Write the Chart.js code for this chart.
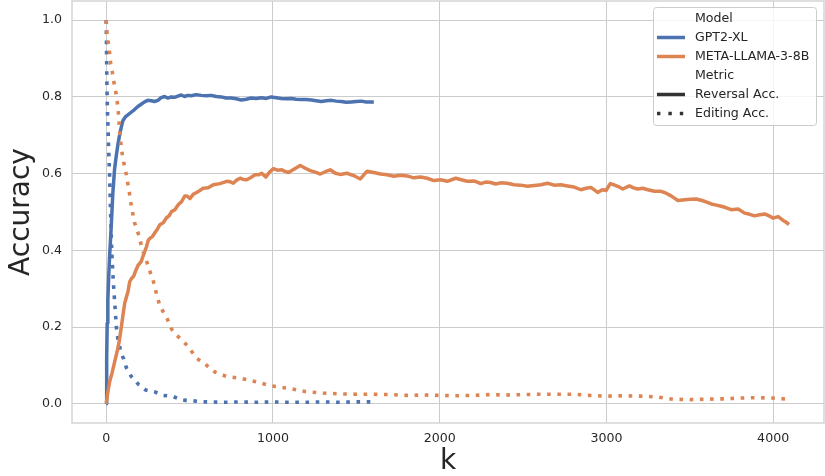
<!DOCTYPE html>
<html>
<head>
<meta charset="utf-8">
<script src="https://cdn.jsdelivr.net/npm/chart.js@4.4.1/dist/chart.umd.min.js"></script>
<style>
  html, body { margin: 0; padding: 0; background: #fff; }
  #wrap { width: 825px; height: 476px; }
</style>
</head>
<body>
<div id="wrap"><canvas id="accChart" width="825" height="476"></canvas></div>
<script>
// Axis ticks
const kTicks = [0, 1000, 2000, 3000, 4000];
const accTicks = [0, 0.2, 0.4, 0.6, 0.8, 1.0];

// Legend groups
const modelNames = ['GPT2-XL', 'META-LLAMA-3-8B'];
const modelColors = ['#4C72B0', '#DD8452'];
const metricNames = ['Reversal Acc.', 'Editing Acc.'];

// [k, accuracy]
const gptReversal = [
  [0, 0.0], [3, 0.12], [6, 0.21], [10, 0.27], [15, 0.33], [20, 0.38], [25, 0.42], [30, 0.46],
  [40, 0.55], [50, 0.61], [60, 0.645], [70, 0.675], [80, 0.70], [90, 0.72], [100, 0.738],
  [115, 0.748], [130, 0.753], [150, 0.76], [170, 0.767], [190, 0.775], [210, 0.781], [230, 0.787],
  [250, 0.791], [270, 0.790], [290, 0.788], [310, 0.791], [330, 0.798], [350, 0.801], [370, 0.797],
  [390, 0.800], [410, 0.799], [430, 0.802], [450, 0.805], [470, 0.801], [490, 0.804], [510, 0.803],
  [540, 0.806], [570, 0.804], [600, 0.803], [630, 0.804], [660, 0.801], [690, 0.800], [720, 0.797],
  [750, 0.797], [780, 0.795], [810, 0.792], [840, 0.794], [870, 0.797], [900, 0.796], [930, 0.798],
  [960, 0.796], [990, 0.800], [1020, 0.798], [1050, 0.796], [1080, 0.795], [1110, 0.796], [1140, 0.794],
  [1170, 0.793], [1200, 0.793], [1230, 0.792], [1260, 0.790], [1290, 0.788], [1320, 0.790], [1350, 0.791],
  [1380, 0.789], [1410, 0.788], [1440, 0.786], [1470, 0.787], [1500, 0.788], [1530, 0.789], [1560, 0.787],
  [1590, 0.787], [1605, 0.786]
];
const gptEditing = [
  [0, 1.0], [2, 0.93], [4, 0.84], [7, 0.77], [11, 0.72], [15, 0.66], [21, 0.59], [27, 0.49],
  [33, 0.40], [40, 0.34], [47, 0.29], [55, 0.24], [61, 0.20], [70, 0.17], [81, 0.148], [90, 0.132],
  [105, 0.117], [121, 0.094], [151, 0.071], [175, 0.06], [195, 0.05], [237, 0.036], [292, 0.031],
  [342, 0.022], [402, 0.019], [452, 0.01], [512, 0.008], [600, 0.005], [700, 0.004], [800, 0.005],
  [900, 0.004], [1000, 0.005], [1100, 0.004], [1200, 0.004], [1300, 0.005], [1400, 0.004],
  [1500, 0.005], [1605, 0.005]
];
const llamaReversal = [
  [0, 0.0], [10, 0.03], [21, 0.058], [35, 0.08], [51, 0.11], [65, 0.135], [77, 0.16], [91, 0.2],
  [101, 0.232], [111, 0.262], [121, 0.278], [131, 0.293], [141, 0.318], [151, 0.326], [165, 0.333],
  [177, 0.347], [190, 0.36], [201, 0.366], [211, 0.372], [221, 0.385], [231, 0.397], [242, 0.41],
  [252, 0.426], [262, 0.431], [277, 0.436], [292, 0.446], [307, 0.455], [322, 0.467], [342, 0.472],
  [362, 0.485], [377, 0.49], [392, 0.501], [412, 0.506], [432, 0.519], [452, 0.527], [472, 0.542],
  [487, 0.541], [502, 0.535], [522, 0.546], [542, 0.551], [562, 0.556], [582, 0.562], [612, 0.563],
  [642, 0.571], [682, 0.574], [723, 0.58], [742, 0.579], [762, 0.575], [782, 0.583], [803, 0.588],
  [823, 0.585], [843, 0.584], [868, 0.59], [893, 0.597], [913, 0.597], [933, 0.601], [957, 0.591],
  [980, 0.604], [1003, 0.613], [1028, 0.609], [1053, 0.61], [1073, 0.606], [1093, 0.603], [1128, 0.612],
  [1164, 0.621], [1194, 0.614], [1224, 0.608], [1254, 0.604], [1284, 0.599], [1314, 0.605], [1344, 0.61],
  [1374, 0.601], [1404, 0.598], [1444, 0.601], [1484, 0.595], [1524, 0.586], [1545, 0.597], [1565, 0.606],
  [1605, 0.603], [1645, 0.599], [1685, 0.597], [1725, 0.593], [1765, 0.596], [1805, 0.594], [1845, 0.589],
  [1885, 0.591], [1925, 0.588], [1965, 0.582], [2005, 0.584], [2046, 0.58], [2096, 0.588], [2130, 0.584],
  [2166, 0.58], [2206, 0.581], [2246, 0.574], [2276, 0.578], [2306, 0.577], [2336, 0.573], [2366, 0.576],
  [2406, 0.575], [2446, 0.571], [2486, 0.57], [2527, 0.567], [2567, 0.569], [2607, 0.571], [2647, 0.575],
  [2687, 0.57], [2727, 0.571], [2767, 0.568], [2807, 0.565], [2847, 0.558], [2877, 0.562], [2907, 0.564],
  [2948, 0.551], [2975, 0.558], [2998, 0.556], [3023, 0.574], [3045, 0.571], [3068, 0.567], [3098, 0.56],
  [3138, 0.568], [3163, 0.563], [3188, 0.56], [3218, 0.562], [3248, 0.558], [3288, 0.554], [3328, 0.554],
  [3358, 0.549], [3388, 0.542], [3429, 0.53], [3469, 0.532], [3504, 0.533], [3539, 0.534], [3589, 0.528],
  [3629, 0.521], [3659, 0.518], [3689, 0.515], [3719, 0.511], [3749, 0.506], [3790, 0.508], [3829, 0.497],
  [3859, 0.494], [3889, 0.49], [3920, 0.493], [3950, 0.495], [3975, 0.49], [4000, 0.484], [4030, 0.488],
  [4060, 0.478], [4080, 0.473], [4095, 0.467]
];
const llamaEditing = [
  [0, 1.0], [5, 0.968], [13, 0.94], [21, 0.913], [27, 0.887], [39, 0.859], [49, 0.831], [61, 0.805],
  [69, 0.777], [75, 0.749], [79, 0.721], [91, 0.665], [105, 0.63], [121, 0.597], [141, 0.545],
  [151, 0.515], [171, 0.471], [197, 0.438], [217, 0.402], [242, 0.372], [262, 0.345], [281, 0.323],
  [300, 0.29], [322, 0.255], [342, 0.24], [362, 0.226], [392, 0.195], [420, 0.18], [452, 0.167],
  [492, 0.149], [542, 0.119], [597, 0.102], [652, 0.083], [723, 0.071], [813, 0.066], [903, 0.057],
  [983, 0.047], [1103, 0.04], [1194, 0.032], [1300, 0.028], [1400, 0.026], [1500, 0.025], [1600, 0.025],
  [1700, 0.024], [1800, 0.022], [1900, 0.023], [2000, 0.022], [2100, 0.021], [2200, 0.022], [2300, 0.024],
  [2400, 0.023], [2500, 0.024], [2600, 0.025], [2700, 0.025], [2800, 0.025], [2900, 0.022], [3000, 0.02],
  [3100, 0.021], [3200, 0.02], [3300, 0.018], [3400, 0.012], [3500, 0.011], [3600, 0.012], [3700, 0.013],
  [3800, 0.015], [3900, 0.016], [4000, 0.015], [4095, 0.012]
];

const FONT = 'DejaVu Sans';
const TEXT = '#262626';
const DOTS = [3.6, 6.6];

function toPoints(rows) {
    return rows.map(r => ({ x: r[0], y: r[1] }));
}

function makeSet(label, rows, color, dotted, order) {
    return {
        label: label,
        data: toPoints(rows),
        borderColor: color,
        borderWidth: dotted ? 3.6 : 3.5,
        borderDash: dotted ? DOTS : [],
        borderCapStyle: 'butt',
        borderJoinStyle: 'round',
        pointRadius: 0,
        tension: 0,
        fill: false,
        order: order
    };
}

// frame around the plot, like the seaborn spines
const frame = {
    id: 'frame',
    afterDatasetsDraw(chart) {
        const { ctx, chartArea: a } = chart;
        ctx.save();
        ctx.strokeStyle = '#cccccc';
        ctx.lineWidth = 1.25;
        ctx.strokeRect(a.left, a.top, a.right - a.left, a.bottom - a.top);
        ctx.restore();
    }
};

// legend with two titled groups (hue + style)
const legendBox = {
    id: 'legendBox',
    afterDraw(chart) {
        const ctx = chart.ctx;
        const rows = [{ label: 'Model' }];
        modelNames.forEach((m, i) => rows.push({ label: m, color: modelColors[i], dash: [] }));
        rows.push({ label: 'Metric' });
        rows.push({ label: metricNames[0], color: '#333333', dash: [] });
        rows.push({ label: metricNames[1], color: '#333333', dash: [3.4, 8] });

        const x0 = 653.5, y0 = 7.5, w = 163, h = 118;
        ctx.save();
        ctx.beginPath();
        ctx.roundRect(x0, y0, w, h, 3);
        ctx.fillStyle = 'rgba(255,255,255,0.8)';
        ctx.fill();
        ctx.strokeStyle = '#cccccc';
        ctx.lineWidth = 1;
        ctx.stroke();

        ctx.font = '12.6px "' + FONT + '"';
        ctx.textBaseline = 'middle';
        ctx.textAlign = 'left';
        rows.forEach((r, i) => {
            const y = 18.5 + i * 19;
            if (r.color) {
                ctx.beginPath();
                ctx.setLineDash(r.dash);
                ctx.lineCap = 'butt';
                ctx.strokeStyle = r.color;
                ctx.lineWidth = 3.5;
                ctx.moveTo(657, y);
                ctx.lineTo(685, y);
                ctx.stroke();
                ctx.setLineDash([]);
            }
            ctx.fillStyle = TEXT;
            ctx.fillText(r.label, 695, y);
        });
        ctx.restore();
    }
};

const ctx = document.getElementById('accChart').getContext('2d');
const accChart = new Chart(ctx, {
    type: 'line',
    data: {
        datasets: [
            makeSet(modelNames[0] + ' ' + metricNames[0], gptReversal, modelColors[0], false, 4),
            makeSet(modelNames[0] + ' ' + metricNames[1], gptEditing, modelColors[0], true, 3),
            makeSet(modelNames[1] + ' ' + metricNames[0], llamaReversal, modelColors[1], false, 2),
            makeSet(modelNames[1] + ' ' + metricNames[1], llamaEditing, modelColors[1], true, 1)
        ]
    },
    options: {
        responsive: false,
        animation: false,
        devicePixelRatio: 1,
        layout: { padding: { top: 1, right: 1, left: 0, bottom: 0 } },
        plugins: { legend: { display: false }, tooltip: { enabled: false } },
        scales: {
            x: {
                type: 'linear',
                min: -205,
                max: 4305,
                afterBuildTicks: s => { s.ticks = kTicks.map(v => ({ value: v })); },
                afterFit: s => { s.height = 53; s.paddingLeft = 0; s.paddingRight = 0; },
                grid: { color: '#cccccc', lineWidth: 1, drawTicks: false },
                border: { display: false },
                ticks: {
                    autoSkip: false,
                    maxRotation: 0,
                    padding: 8,
                    color: TEXT,
                    font: { family: FONT, size: 12.6 },
                    callback: v => String(v)
                },
                title: {
                    display: true,
                    text: 'k',
                    color: TEXT,
                    font: { family: FONT, size: 28, lineHeight: 1 },
                    padding: { top: 0, bottom: 0 }
                }
            },
            y: {
                type: 'linear',
                min: -0.05,
                max: 1.05,
                afterBuildTicks: s => { s.ticks = accTicks.map(v => ({ value: v })); },
                afterFit: s => { s.width = 72; s.paddingTop = 0; s.paddingBottom = 0; },
                grid: { color: '#cccccc', lineWidth: 1, drawTicks: false },
                border: { display: false },
                ticks: {
                    padding: 10,
                    color: TEXT,
                    font: { family: FONT, size: 12.6 },
                    callback: v => v.toFixed(1)
                },
                title: {
                    display: true,
                    text: 'Accuracy',
                    color: TEXT,
                    font: { family: FONT, size: 28, lineHeight: 1 },
                    padding: { top: 8, bottom: 0 }
                }
            }
        }
    },
    plugins: [frame, legendBox]
});
</script>
</body>
</html>
